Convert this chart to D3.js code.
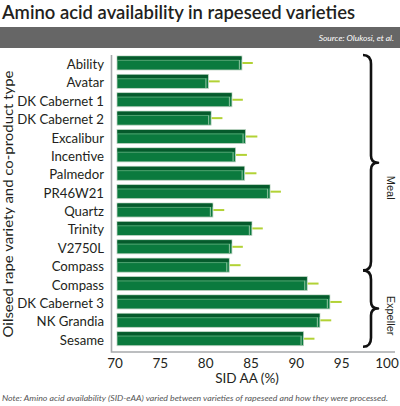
<!DOCTYPE html>
<html>
<head>
<meta charset="utf-8">
<script src="https://cdn.jsdelivr.net/npm/d3@7"></script>
<style>
  body { margin: 0; background: #fff; }
  svg { display: block; }
</style>
</head>
<body>
<div id="chart"></div>
<script>
const varieties = ["Ability", "Avatar", "DK Cabernet 1", "DK Cabernet 2", "Excalibur", "Incentive",
    "Palmedor", "PR46W21", "Quartz", "Trinity", "V2750L", "Compass",
    "Compass", "DK Cabernet 3", "NK Grandia", "Sesame"];
const productType = ["Meal", "Meal", "Meal", "Meal", "Meal", "Meal",
    "Meal", "Meal", "Meal", "Meal", "Meal", "Meal",
    "Expeller", "Expeller", "Expeller", "Expeller"];
const sidAA = [84.0, 80.3, 82.9, 80.6, 84.4, 83.3, 84.3, 87.1, 80.8, 85.1, 82.9, 82.6,
    91.2, 93.7, 92.6, 90.8];
const sidErr = [1.2, 1.25, 1.2, 1.25, 1.3, 1.25, 1.3, 1.2, 1.25, 1.2, 1.2, 1.25,
    1.25, 1.3, 1.25, 1.2];
const xTicks = [70, 75, 80, 85, 90, 95, 100];

function drawChart() {
    const width = 400, height = 406;
    const font = "Lato, 'Liberation Sans', sans-serif";

    const svg = d3.select("#chart").append("svg")
        .attr("width", width)
        .attr("height", height);

    // title and source band
    svg.append("text")
        .attr("x", 2).attr("y", 19)
        .attr("font-family", font)
        .attr("font-weight", 600)
        .attr("font-size", 19)
        .attr("fill", "#231f20")
        .attr("textLength", 353)
        .attr("lengthAdjust", "spacingAndGlyphs")
        .text("Amino acid availability in rapeseed varieties");

    svg.append("rect")
        .attr("x", 0).attr("y", 27)
        .attr("width", width).attr("height", 21)
        .attr("fill", "#666666");

    svg.append("text")
        .attr("x", 394).attr("y", 40.5)
        .attr("text-anchor", "end")
        .attr("font-family", font)
        .attr("font-style", "italic")
        .attr("font-size", 8.5)
        .attr("fill", "#fff")
        .text("Source: Olukosi, et al.");

    const x = d3.scaleLinear()
        .domain([70, 100])
        .range([115, 387]);

    const y = d3.scaleBand()
        .domain(d3.range(varieties.length))
        .range([53.8, 347.9])
        .paddingInner(0.238)
        .paddingOuter(0.119);

    const bw = y.bandwidth();
    const barStart = x(70) + 2;

    // frame
    svg.append("path")
        .attr("d", `M111.5,55V352H395`)
        .attr("fill", "none")
        .attr("stroke", "#a7a9ac")
        .attr("stroke-width", 1.6);

    // bars
    const bars = svg.append("g").selectAll("g")
        .data(sidAA)
        .join("g")
        .attr("transform", (d, i) => `translate(0,${y(i)})`);

    bars.append("rect")
        .attr("x", barStart)
        .attr("y", 0)
        .attr("width", d => x(d) - barStart)
        .attr("height", bw)
        .attr("fill", "#0b7a3e")
        .attr("stroke", "#bfd3c3")
        .attr("stroke-width", 0.8);

    bars.append("rect")
        .attr("x", barStart + 0.5)
        .attr("y", 0.5)
        .attr("width", d => x(d) - barStart - 1)
        .attr("height", 3.2)
        .attr("fill", "#065a2c");

    bars.append("line")
        .attr("x1", barStart + 1)
        .attr("x2", d => x(d) - 3)
        .attr("y1", 4.4).attr("y2", 4.4)
        .attr("stroke", "#4fa06f")
        .attr("stroke-width", 1);

    bars.append("line")
        .attr("x1", d => x(d) - 2.5)
        .attr("x2", d => x(d) - 2.5)
        .attr("y1", 4).attr("y2", bw - 0.5)
        .attr("stroke", "#7dbb93")
        .attr("stroke-width", 1.2);

    // error bars
    bars.append("line")
        .attr("x1", d => x(d) + 0.5)
        .attr("x2", (d, i) => x(d + sidErr[i]))
        .attr("y1", bw / 2).attr("y2", bw / 2)
        .attr("stroke", "#b2d235")
        .attr("stroke-width", 2);

    // category labels
    svg.append("g").selectAll("text")
        .data(varieties)
        .join("text")
        .attr("x", 104)
        .attr("y", (d, i) => y(i) + bw / 2 + 1)
        .attr("dominant-baseline", "central")
        .attr("text-anchor", "end")
        .attr("font-family", font)
        .attr("font-size", 13.2)
        .attr("fill", "#231f20")
        .text(d => d);

    // x axis ticks
    svg.append("g").selectAll("text")
        .data(xTicks)
        .join("text")
        .attr("x", d => x(d))
        .attr("y", 368)
        .attr("text-anchor", "middle")
        .attr("font-family", font)
        .attr("font-size", 13.5)
        .attr("fill", "#231f20")
        .text(d => d);

    svg.append("text")
        .attr("x", 247).attr("y", 383)
        .attr("text-anchor", "middle")
        .attr("font-family", font)
        .attr("font-size", 13.5)
        .attr("fill", "#231f20")
        .text("SID AA (%)");

    svg.append("text")
        .attr("transform", "translate(13,204) rotate(-90)")
        .attr("text-anchor", "middle")
        .attr("font-family", font)
        .attr("font-size", 12.5)
        .attr("fill", "#231f20")
        .attr("textLength", 267)
        .attr("lengthAdjust", "spacingAndGlyphs")
        .text("Oilseed rape variety and co-product type");

    // braces for product type groups
    const groupNames = Array.from(new Set(productType));
    const extents = groupNames.map(g => {
        const idx = d3.range(productType.length).filter(i => productType[i] === g);
        return { name: g, first: d3.min(idx), last: d3.max(idx) };
    });
    const step = y.step();
    extents.forEach((g, k) => {
        const y0 = k === 0 ? y(g.first) - 1 : y(g.first) - (step - bw) / 2 - 4;
        const y1 = k === extents.length - 1 ? y(g.last) + bw + 1 : y(g.last) + bw + (step - bw) / 2 - 4;
        const ym = (y0 + y1) / 2;
        const bx = 371, lx = 363, tx = 378;
        const path = `M${lx},${y0}Q${bx},${y0} ${bx},${y0 + 9}L${bx},${ym - 7}Q${bx},${ym} ${tx},${ym}` +
            `Q${bx},${ym} ${bx},${ym + 7}L${bx},${y1 - 9}Q${bx},${y1} ${lx},${y1}`;
        svg.append("path")
            .attr("d", path)
            .attr("fill", "none")
            .attr("stroke", "#111")
            .attr("stroke-width", 2.6)
            .attr("stroke-linejoin", "round");

        const labelY = k === 0 ? ym + 25 : ym + 7;
        svg.append("text")
            .attr("transform", `translate(387,${labelY}) rotate(90)`)
            .attr("text-anchor", "middle")
            .attr("font-family", "'Liberation Sans', Arial, sans-serif")
            .attr("font-size", 11)
            .attr("fill", "#231f20")
            .text(g.name);
    });

    // footnote
    svg.append("text")
        .attr("x", 2).attr("y", 400.5)
        .attr("font-family", font)
        .attr("font-style", "italic")
        .attr("font-size", 8)
        .attr("fill", "#555")
        .attr("textLength", 386)
        .attr("lengthAdjust", "spacingAndGlyphs")
        .text("Note: Amino acid availability (SID-eAA) varied between varieties of rapeseed and how they were processed.");
}

drawChart();
</script>
</body>
</html>
